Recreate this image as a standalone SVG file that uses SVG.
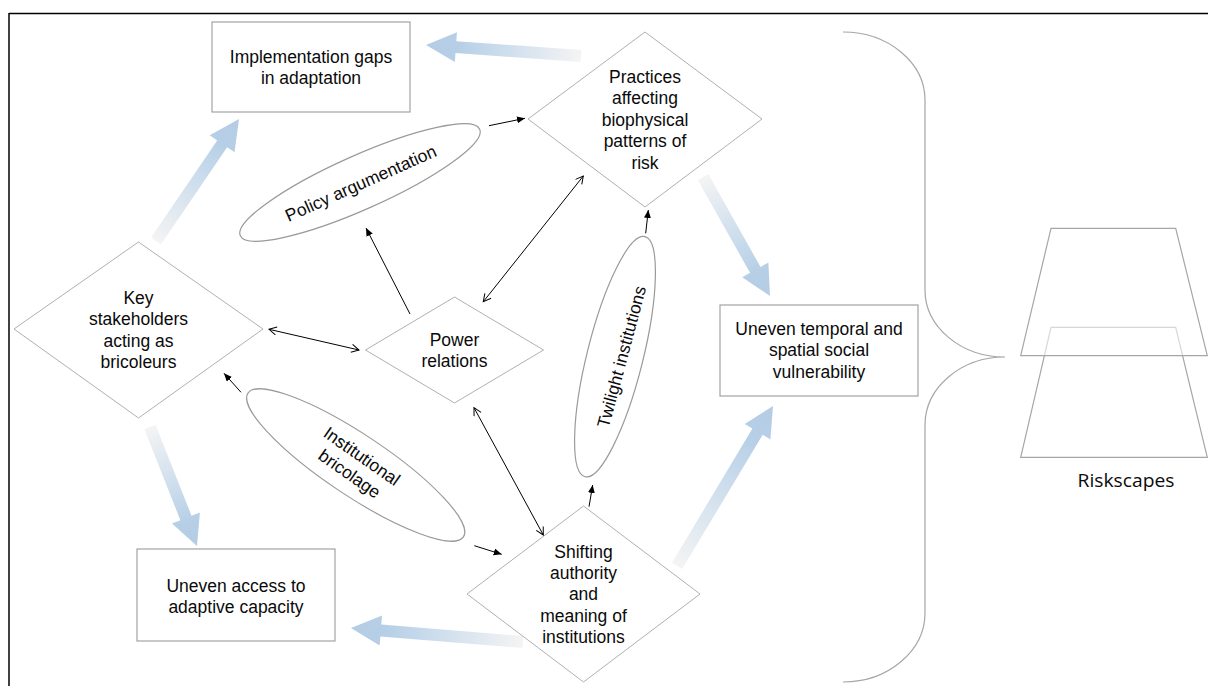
<svg xmlns="http://www.w3.org/2000/svg" width="1208" height="686" viewBox="0 0 1208 686">
<defs>
<style>
text{font-family:"Liberation Sans",Arial,sans-serif;font-size:17.5px;fill:#0a0a0a;text-anchor:middle}
.box{fill:#fff;stroke:#a3a3a3;stroke-width:1.2}
.dia{fill:#fff;stroke:#b0b0b0;stroke-width:1}
.ell{fill:#fff;stroke:#9a9a9a;stroke-width:1.2}
.con{stroke:#000;stroke-width:1;fill:none}
.f{marker-end:url(#fh)}
.d{marker-start:url(#oh);marker-end:url(#oh)}
.blk{fill:url(#bg)}
.trap{fill:none;stroke:#a6a6a6;stroke-width:1.2}
</style>
<linearGradient id="bg" x1="0" y1="0" x2="1" y2="0">
<stop offset="0" stop-color="#f4f4f4"/>
<stop offset="0.55" stop-color="#c9dbec"/>
<stop offset="0.8" stop-color="#b6cfe6"/>
<stop offset="1" stop-color="#b4cde4"/>
</linearGradient>
<marker id="fh" markerUnits="userSpaceOnUse" markerWidth="9" markerHeight="8" refX="8" refY="3.5" orient="auto">
<path d="M0,0 L8,3.5 L0,7 z" fill="#000"/>
</marker>
<marker id="oh" markerUnits="userSpaceOnUse" markerWidth="10" markerHeight="10" refX="8.5" refY="4.5" orient="auto-start-reverse">
<path d="M1,0.5 L8.5,4.5 L1,8.5" fill="none" stroke="#000" stroke-width="1"/>
</marker>
</defs>
<rect width="1208" height="686" fill="#fff"/>
<g id="frame" stroke="#000" stroke-width="1.5" fill="none">
<line x1="9" y1="13.5" x2="1208" y2="13.5"/>
<line x1="9" y1="13" x2="9" y2="686"/>
</g>
<g id="block-arrows">
<polygon class="blk" transform="translate(581,56) rotate(-175.94)" points="0,-6 125.4,-6 125.4,-15 155.4,0 125.4,15 125.4,6 0,6"/>
<polygon class="blk" transform="translate(156,241) rotate(-55.77)" points="0,-6 117.6,-6 117.6,-15 147.6,0 117.6,15 117.6,6 0,6"/>
<polygon class="blk" transform="translate(703,177) rotate(60.62)" points="0,-6 106.6,-6 106.6,-15 136.6,0 106.6,15 106.6,6 0,6"/>
<polygon class="blk" transform="translate(677,566) rotate(-59.04)" points="0,-6 156.6,-6 156.6,-15 186.6,0 156.6,15 156.6,6 0,6"/>
<polygon class="blk" transform="translate(150,427) rotate(68.45)" points="0,-6 97.9,-6 97.9,-15 127.9,0 97.9,15 97.9,6 0,6"/>
<polygon class="blk" transform="translate(523,642) rotate(-175.35)" points="0,-6 142.6,-6 142.6,-15 172.6,0 142.6,15 142.6,6 0,6"/>
</g>
<g id="implementation-gaps">
<rect class="box" x="212" y="22" width="198" height="90"/>
<text x="311" y="62.7">Implementation gaps</text>
<text x="311" y="84.3">in adaptation</text>
</g>
<g id="practices">
<polygon class="dia" points="645,32 762,119 645,207 528,119"/>
<text x="645" y="83">Practices</text>
<text x="645" y="104.4">affecting</text>
<text x="645" y="125.8">biophysical</text>
<text x="645" y="147.2">patterns of</text>
<text x="645" y="168.6">risk</text>
</g>
<g id="key-stakeholders">
<polygon class="dia" points="138.5,242 263,329 138.5,418 14,329"/>
<text x="138.5" y="304">Key</text>
<text x="138.5" y="325.3">stakeholders</text>
<text x="138.5" y="346.6">acting as</text>
<text x="138.5" y="367.9">bricoleurs</text>
</g>
<g id="power-relations">
<polygon class="dia" points="454.5,297 543.5,350 454.5,403 365.5,350"/>
<text x="454.5" y="346">Power</text>
<text x="454.5" y="367">relations</text>
</g>
<g id="shifting-authority">
<polygon class="dia" points="583.5,506 700,594 583.5,682 467,594"/>
<text x="583.5" y="557.7">Shifting</text>
<text x="583.5" y="579">authority</text>
<text x="583.5" y="600.3">and</text>
<text x="583.5" y="621.6">meaning of</text>
<text x="583.5" y="642.9">institutions</text>
</g>
<g id="uneven-temporal">
<rect class="box" x="720" y="305" width="198" height="91"/>
<text x="819" y="335">Uneven temporal and</text>
<text x="819" y="356.4">spatial social</text>
<text x="819" y="377.8">vulnerability</text>
</g>
<g id="uneven-access">
<rect class="box" x="137" y="549" width="198" height="92"/>
<text x="236" y="591.7">Uneven access to</text>
<text x="236" y="613">adaptive capacity</text>
</g>
<g id="policy-argumentation">
<ellipse class="ell" cx="360" cy="182.5" rx="131" ry="27" transform="rotate(-24 360 182.5)"/>
<text transform="translate(360.8 183.3) rotate(-24)" y="6">Policy argumentation</text>
</g>
<g id="institutional-bricolage">
<ellipse class="ell" cx="355.7" cy="465" rx="129.5" ry="30.5" transform="rotate(33.7 355.7 465)"/>
<g transform="translate(355.7 465) rotate(35)">
<text y="-4.7">Institutional</text>
<text y="16.7">bricolage</text>
</g>
</g>
<g id="twilight-institutions">
<ellipse class="ell" cx="615" cy="356.7" rx="123.7" ry="28" transform="rotate(-76 615 356.7)"/>
<text transform="translate(621.7 356.7) rotate(-75)" y="6">Twilight institutions</text>
</g>
<g id="connectors">
<line class="con f" x1="489" y1="125.7" x2="525" y2="118.3"/>
<line class="con f" x1="410" y1="314" x2="366" y2="228"/>
<line class="con d" x1="483.3" y1="301.7" x2="583.3" y2="176"/>
<line class="con d" x1="269" y1="329.3" x2="359" y2="350"/>
<line class="con f" x1="241" y1="392.3" x2="224" y2="373.3"/>
<line class="con d" x1="474" y1="407.7" x2="543.3" y2="535"/>
<line class="con f" x1="474.3" y1="545.7" x2="501.7" y2="554.3"/>
<line class="con f" x1="589" y1="506.7" x2="592.7" y2="485"/>
<line class="con f" x1="645.7" y1="233.3" x2="648.3" y2="210"/>
</g>
<g id="brace">
<path d="M843,32 C888,32 925,62.5 925,100 L925,290 C925,327 961,357 1005,357 C961,357 925,387.5 925,425 L925,613 C925,651 888,682 843,682" fill="none" stroke="#a6a6a6" stroke-width="1.2"/>
</g>
<g id="riskscapes">
<polygon class="trap" points="1051,327.3 1175.7,327.3 1207.3,457.3 1020.7,457.3"/>
<polygon class="trap" points="1051,228.3 1175.7,228.3 1207.3,355.7 1020.7,355.7" style="fill:#fff;fill-opacity:0.55"/>
<text x="1126" y="487" style="font-family:'Open Sans','Noto Sans',sans-serif;font-size:17.5px" textLength="97" lengthAdjust="spacingAndGlyphs">Riskscapes</text>
</g>
</svg>
